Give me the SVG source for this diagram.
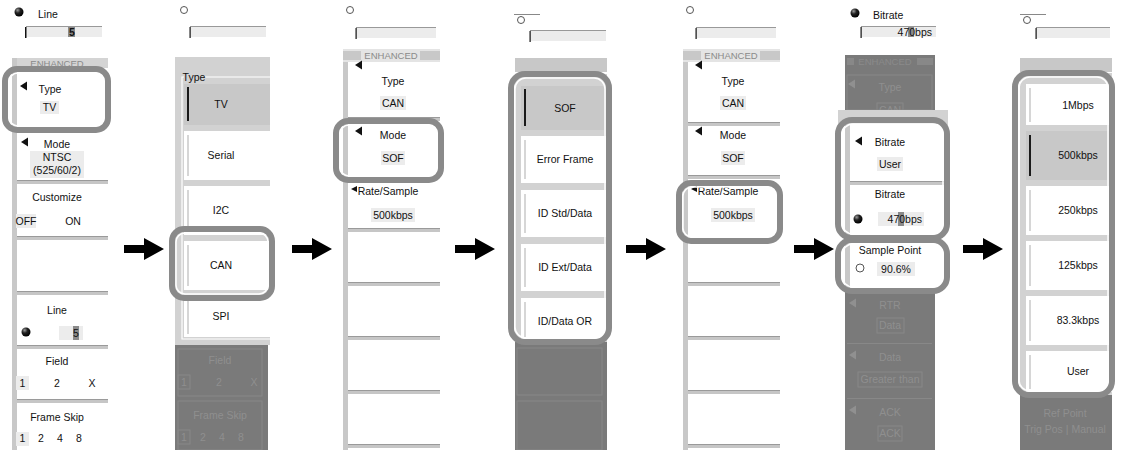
<svg xmlns="http://www.w3.org/2000/svg" xmlns:xlink="http://www.w3.org/1999/xlink" width="1127" height="450" viewBox="0 0 1127 450">
<style>
text{font-family:"Liberation Sans",Arial,sans-serif;font-size:10.5px;fill:#111;text-anchor:middle}
.l{text-anchor:start}
.r{text-anchor:end}
.f{fill:#8f8f8f}
.hd{font-size:9.5px;fill:#8a8a8a}
.strip{fill:#c8c8c8}
.sep{fill:#c6c6c6}
.sepl{stroke:#9a9a9a;stroke-width:1}
.vb{fill:#ececec}
.box{fill:#ececec}
.bl{fill:#111}
.hl{fill:none;stroke:#8a8a8a;stroke-width:6}
.hli{fill:none;stroke:#fff;stroke-width:1.5}
.sel{fill:#c8c8c8}
.bar{fill:#1a1a1a}
.lbar{fill:#d6d6d6}
.dark{fill:#7a7a7a}
.fb{fill:none;stroke:#888;stroke-width:1}
.ko{fill:#fff;stroke:#555;stroke-width:1}
.cur{fill:#8a8a8a}
.arr{fill:#000}
</style>
<defs>
<radialGradient id="kb" cx="0.35" cy="0.3" r="0.7">
<stop offset="0" stop-color="#9a9a9a"/>
<stop offset="0.45" stop-color="#222"/>
<stop offset="1" stop-color="#000"/>
</radialGradient>
<path id="arrow" d="M0,-4 H20 V-11 L40,0 L20,11 V4 H0 Z"/>
<polygon id="tri" points="0,0 7,-4.5 7,4.5"/>
</defs>
<rect width="1127" height="450" fill="#fff"/>

<!-- Panel 1 -->
<g id="panel1">
<circle cx="19" cy="12" r="4.5" fill="url(#kb)"/>
<text x="38" y="18" class="l">Line</text>
<rect x="26" y="27" width="76" height="10" class="box"/>
<line x1="26" y1="26.5" x2="102" y2="26.5" stroke="#999"/>
<rect x="25" y="27" width="1.5" height="11" class="bl"/>
<rect x="68" y="27" width="7" height="10" class="cur"/>
<text x="72" y="35.5" font-weight="bold">5</text>
<rect x="12" y="58" width="96" height="10" fill="#d4d4d4"/>
<text x="57" y="66.5" class="hd">ENHANCED</text>
<rect x="12" y="58" width="5" height="392" class="strip"/>
<use xlink:href="#tri" x="20" y="86" class="bl"/>
<text x="50" y="93">Type</text>
<rect x="40" y="101" width="19" height="13" class="vb"/>
<text x="49.5" y="111">TV</text>
<rect x="5" y="69" width="103" height="61" rx="12" class="hl"/>
<rect x="9" y="73" width="95" height="53" rx="9" class="hli"/>
<use xlink:href="#tri" x="21" y="142" class="bl"/>
<text x="57" y="148">Mode</text>
<rect x="30" y="151" width="54" height="27" class="vb"/>
<text x="57" y="161">NTSC</text>
<text x="57" y="174">(525/60/2)</text>
<line x1="17" y1="180.5" x2="108" y2="180.5" class="sepl"/>
<rect x="17" y="181" width="91" height="3" class="sep"/>
<text x="57" y="201">Customize</text>
<rect x="16" y="214" width="20" height="14" class="vb"/>
<text x="26" y="225">OFF</text>
<text x="73" y="225">ON</text>
<line x1="17" y1="236.5" x2="108" y2="236.5" class="sepl"/>
<rect x="17" y="237" width="91" height="3" class="sep"/>
<line x1="17" y1="291.5" x2="108" y2="291.5" class="sepl"/>
<rect x="17" y="292" width="91" height="3" class="sep"/>
<text x="57" y="314">Line</text>
<circle cx="26" cy="332" r="4.5" fill="url(#kb)"/>
<rect x="59" y="326" width="24" height="14" class="vb"/>
<rect x="73" y="326" width="6" height="14" class="cur"/>
<text x="76" y="337">5</text>
<line x1="17" y1="345.5" x2="108" y2="345.5" class="sepl"/>
<rect x="17" y="346" width="91" height="3" class="sep"/>
<text x="57" y="365">Field</text>
<rect x="16" y="376" width="13" height="14" class="vb"/>
<text x="22.5" y="387">1</text>
<text x="57" y="387">2</text>
<text x="92" y="387">X</text>
<line x1="17" y1="399.5" x2="108" y2="399.5" class="sepl"/>
<rect x="17" y="400" width="91" height="3" class="sep"/>
<text x="57" y="421">Frame Skip</text>
<rect x="16" y="432" width="13" height="14" class="vb"/>
<text x="22.5" y="442">1</text>
<text x="41" y="442">2</text>
<text x="60" y="442">4</text>
<text x="79" y="442">8</text>
</g>

<!-- Panel 2 -->
<g id="panel2">
<circle cx="184" cy="10" r="3.5" class="ko"/>
<rect x="190" y="27" width="76" height="10" class="box"/>
<line x1="190" y1="26.5" x2="266" y2="26.5" stroke="#999"/>
<rect x="189.5" y="27" width="1.2" height="11" class="bl"/>
<rect x="175" y="57" width="95" height="288" fill="#d2d2d2"/>
<polyline points="184,77 182,77 182,339 270,339" fill="none" stroke="#fff" stroke-width="1.2"/>
<line x1="204" y1="77" x2="270" y2="77" stroke="#fff" stroke-width="1.2"/>
<text x="194" y="81" font-size="9px" fill="#fff">Type</text>
<rect x="184" y="84" width="86" height="41" class="sel"/>
<rect x="187" y="87" width="2" height="34" class="bar"/>
<text x="221" y="108">TV</text>
<rect x="184" y="131" width="86" height="49" fill="#fff"/>
<rect x="187" y="135" width="2" height="41" class="lbar"/>
<text x="221" y="159">Serial</text>
<rect x="184" y="186" width="86" height="49" fill="#fff"/>
<rect x="187" y="190" width="2" height="41" class="lbar"/>
<text x="221" y="214">I2C</text>
<rect x="184" y="241" width="86" height="49" fill="#fff"/>
<rect x="187" y="245" width="2" height="41" class="lbar"/>
<text x="221" y="269">CAN</text>
<rect x="184" y="296" width="86" height="41" fill="#fff"/>
<rect x="187" y="299" width="2" height="35" class="lbar"/>
<text x="221" y="320">SPI</text>
<rect x="175" y="345" width="93" height="105" class="dark"/>
<rect x="178" y="349" width="84" height="47" class="fb"/>
<text x="220" y="364" class="f">Field</text>
<rect x="178" y="375" width="12" height="14" class="fb"/>
<text x="184" y="386" class="f">1</text>
<text x="219" y="386" class="f">2</text>
<text x="254" y="386" class="f">X</text>
<rect x="178" y="401" width="84" height="49" class="fb"/>
<text x="220" y="419" class="f">Frame Skip</text>
<rect x="178" y="430" width="12" height="14" class="fb"/>
<text x="184" y="441" class="f">1</text>
<text x="203" y="441" class="f">2</text>
<text x="222" y="441" class="f">4</text>
<text x="241" y="441" class="f">8</text>
<rect x="172" y="229" width="100" height="69" rx="12" class="hl"/>
<rect x="176" y="233" width="92" height="61" rx="9" class="hli"/>
</g>

<!-- Panel 3 -->
<g id="panel3">
<circle cx="350" cy="10" r="3.5" class="ko"/>
<rect x="356" y="28" width="80" height="10" class="box"/>
<line x1="356" y1="27.5" x2="436" y2="27.5" stroke="#999"/>
<rect x="355.5" y="28" width="1.2" height="11" class="bl"/>
<rect x="343" y="49" width="97" height="13" fill="#e4e4e4"/>
<rect x="343" y="51" width="18" height="9" class="strip"/>
<rect x="420" y="51" width="20" height="9" class="strip"/>
<text x="391" y="59" class="hd">ENHANCED</text>
<rect x="343" y="62" width="5" height="388" class="strip"/>
<use xlink:href="#tri" x="355" y="65" class="bl"/>
<text x="393" y="85">Type</text>
<rect x="380" y="96" width="26" height="14" class="vb"/>
<text x="393" y="107">CAN</text>
<line x1="348" y1="117.5" x2="440" y2="117.5" class="sepl"/>
<rect x="348" y="118" width="92" height="3" class="sep"/>
<use xlink:href="#tri" x="355" y="131" class="bl"/>
<text x="393" y="139">Mode</text>
<rect x="381" y="151" width="24" height="14" class="vb"/>
<text x="393" y="162">SOF</text>
<rect x="336" y="121" width="105" height="59" rx="12" class="hl"/>
<rect x="340" y="125" width="97" height="51" rx="9" class="hli"/>
<polygon points="351,189 357,186 357,192" class="bl"/>
<text x="388" y="195">Rate/Sample</text>
<rect x="371" y="208" width="44" height="14" class="vb"/>
<text x="393" y="219">500kbps</text>
<line x1="348" y1="228.5" x2="440" y2="228.5" class="sepl"/>
<rect x="348" y="229" width="92" height="3" class="sep"/>
<line x1="348" y1="282.5" x2="440" y2="282.5" class="sepl"/>
<rect x="348" y="283" width="92" height="3" class="sep"/>
<line x1="348" y1="336.5" x2="440" y2="336.5" class="sepl"/>
<rect x="348" y="337" width="92" height="3" class="sep"/>
<line x1="348" y1="390.5" x2="440" y2="390.5" class="sepl"/>
<rect x="348" y="391" width="92" height="3" class="sep"/>
<line x1="348" y1="444.5" x2="440" y2="444.5" class="sepl"/>
<rect x="348" y="445" width="92" height="3" class="sep"/>
</g>

<!-- Panel 4 -->
<g id="panel4">
<line x1="514" y1="14.5" x2="540" y2="14.5" stroke="#888"/>
<circle cx="521" cy="20" r="3.5" class="ko"/>
<rect x="530" y="31" width="76" height="10" class="box"/>
<line x1="530" y1="30.5" x2="606" y2="30.5" stroke="#999"/>
<rect x="529.5" y="31" width="1.2" height="11" class="bl"/>
<rect x="515" y="58" width="92" height="14" class="strip"/>
<rect x="515" y="74" width="92" height="268" fill="#d2d2d2"/>
<rect x="521" y="86" width="86" height="44" class="sel"/>
<rect x="524" y="89" width="2" height="37" class="bar"/>
<text x="565" y="112">SOF</text>
<rect x="521" y="136" width="86" height="47" fill="#fff"/>
<rect x="524" y="140" width="2" height="39" class="lbar"/>
<text x="565" y="163">Error Frame</text>
<rect x="521" y="190" width="86" height="47" fill="#fff"/>
<rect x="524" y="194" width="2" height="39" class="lbar"/>
<text x="565" y="217">ID Std/Data</text>
<rect x="521" y="244" width="86" height="47" fill="#fff"/>
<rect x="524" y="248" width="2" height="39" class="lbar"/>
<text x="565" y="271">ID Ext/Data</text>
<rect x="521" y="298" width="86" height="41" fill="#fff"/>
<rect x="524" y="302" width="2" height="35" class="lbar"/>
<text x="565" y="325">ID/Data OR</text>
<rect x="515" y="342" width="92" height="108" class="dark"/>
<rect x="517" y="348" width="85" height="47" class="fb"/>
<rect x="517" y="401" width="85" height="49" class="fb"/>
<rect x="511" y="74" width="98" height="268" rx="14" class="hl"/>
<rect x="515" y="78" width="90" height="260" rx="11" class="hli"/>
</g>

<!-- Panel 5 -->
<g id="panel5">
<circle cx="690" cy="10" r="3.5" class="ko"/>
<rect x="696" y="28" width="80" height="10" class="box"/>
<line x1="696" y1="27.5" x2="776" y2="27.5" stroke="#999"/>
<rect x="695.5" y="28" width="1.2" height="11" class="bl"/>
<rect x="683" y="49" width="97" height="13" fill="#e4e4e4"/>
<rect x="683" y="51" width="18" height="9" class="strip"/>
<rect x="760" y="51" width="20" height="9" class="strip"/>
<text x="731" y="59" class="hd">ENHANCED</text>
<rect x="683" y="62" width="5" height="388" class="strip"/>
<use xlink:href="#tri" x="695" y="65" class="bl"/>
<text x="733" y="85">Type</text>
<rect x="720" y="96" width="26" height="14" class="vb"/>
<text x="733" y="107">CAN</text>
<line x1="688" y1="122.5" x2="780" y2="122.5" class="sepl"/>
<rect x="688" y="123" width="92" height="3" class="sep"/>
<use xlink:href="#tri" x="695" y="131" class="bl"/>
<text x="733" y="139">Mode</text>
<rect x="721" y="151" width="24" height="14" class="vb"/>
<text x="733" y="162">SOF</text>
<line x1="688" y1="175.5" x2="780" y2="175.5" class="sepl"/>
<rect x="688" y="176" width="92" height="3" class="sep"/>
<polygon points="691,189 697,186 697,192" class="bl"/>
<text x="728" y="195">Rate/Sample</text>
<rect x="711" y="208" width="44" height="14" class="vb"/>
<text x="733" y="219">500kbps</text>
<rect x="679" y="183" width="101" height="58" rx="12" class="hl"/>
<rect x="683" y="187" width="93" height="50" rx="9" class="hli"/>
<line x1="688" y1="282.5" x2="780" y2="282.5" class="sepl"/>
<rect x="688" y="283" width="92" height="3" class="sep"/>
<line x1="688" y1="336.5" x2="780" y2="336.5" class="sepl"/>
<rect x="688" y="337" width="92" height="3" class="sep"/>
<line x1="688" y1="390.5" x2="780" y2="390.5" class="sepl"/>
<rect x="688" y="391" width="92" height="3" class="sep"/>
<line x1="688" y1="444.5" x2="780" y2="444.5" class="sepl"/>
<rect x="688" y="445" width="92" height="3" class="sep"/>
</g>

<!-- Panel 6 -->
<g id="panel6">
<circle cx="855" cy="13" r="4.5" fill="url(#kb)"/>
<text x="873" y="19" class="l">Bitrate</text>
<rect x="861" y="27" width="75" height="10" class="box"/>
<line x1="861" y1="26.5" x2="936" y2="26.5" stroke="#999"/>
<rect x="860.5" y="27" width="1.2" height="11" class="bl"/>
<rect x="908" y="27" width="6" height="10" class="cur"/>
<text x="932" y="36" class="r">470bps</text>
<rect x="845" y="55" width="90" height="55" class="dark"/>
<rect x="847" y="58" width="7" height="7" fill="#888"/>
<rect x="917" y="58" width="16" height="7" fill="#888"/>
<text x="885" y="65" class="f hd">ENHANCED</text>
<rect x="847" y="75" width="85" height="35" class="fb"/>
<use xlink:href="#tri" x="848" y="84" fill="#909090"/>
<text x="890" y="91" class="f">Type</text>
<rect x="877" y="103" width="26" height="14" class="fb"/>
<text x="890" y="114" class="f">CAN</text>
<rect x="838" y="110" width="110" height="15" fill="#d2d2d2"/>
<rect x="843" y="124" width="100" height="112" fill="#fff"/>
<rect x="845" y="124" width="5" height="112" class="strip"/>
<use xlink:href="#tri" x="855" y="141" class="bl"/>
<text x="890" y="146">Bitrate</text>
<rect x="877" y="157" width="26" height="14" class="vb"/>
<text x="890" y="168">User</text>
<line x1="850" y1="181.5" x2="945" y2="181.5" class="sepl"/>
<rect x="850" y="182" width="95" height="3" class="sep"/>
<text x="890" y="198">Bitrate</text>
<circle cx="858" cy="219" r="4.5" fill="url(#kb)"/>
<rect x="878" y="212" width="46" height="14" class="vb"/>
<rect x="898" y="212" width="6" height="14" class="cur"/>
<text x="922" y="223" class="r">470bps</text>
<rect x="838" y="120" width="109" height="118" rx="14" class="hl"/>
<rect x="842" y="124" width="101" height="110" rx="11" class="hli"/>
<rect x="845" y="244" width="5" height="44" class="strip"/>
<text x="890" y="254">Sample Point</text>
<circle cx="860" cy="268" r="4" class="ko"/>
<rect x="877" y="262" width="38" height="14" class="vb"/>
<text x="896" y="273" fill="#555">90.6%</text>
<rect x="845" y="291" width="90" height="159" class="dark"/>
<use xlink:href="#tri" x="849" y="303" fill="#909090"/>
<text x="890" y="309" class="f">RTR</text>
<rect x="877" y="318" width="27" height="15" class="fb"/>
<text x="890" y="329" class="f">Data</text>
<line x1="847" y1="343.5" x2="932" y2="343.5" stroke="#888"/>
<use xlink:href="#tri" x="849" y="355" fill="#909090"/>
<text x="890" y="361" class="f">Data</text>
<rect x="858" y="372" width="64" height="15" class="fb"/>
<text x="890" y="383" class="f">Greater than</text>
<line x1="847" y1="398.5" x2="932" y2="398.5" stroke="#888"/>
<use xlink:href="#tri" x="849" y="410" fill="#909090"/>
<text x="890" y="416" class="f">ACK</text>
<rect x="878" y="426" width="24" height="15" class="fb"/>
<text x="890" y="437" class="f">ACK</text>
<rect x="838" y="240" width="109" height="51" rx="14" class="hl"/>
<rect x="842" y="244" width="101" height="43" rx="11" class="hli"/>
</g>

<!-- Panel 7 -->
<g id="panel7">
<line x1="1020" y1="14.5" x2="1046" y2="14.5" stroke="#888"/>
<circle cx="1027" cy="20" r="3.5" class="ko"/>
<rect x="1036" y="28" width="74" height="10" class="box"/>
<line x1="1036" y1="27.5" x2="1110" y2="27.5" stroke="#999"/>
<rect x="1035.5" y="28" width="1.2" height="11" class="bl"/>
<rect x="1020" y="58" width="92" height="14" class="strip"/>
<rect x="1020" y="73" width="92" height="322" fill="#d2d2d2"/>
<rect x="1026" y="84" width="86" height="41" fill="#fff"/>
<rect x="1029" y="88" width="2" height="34" class="lbar"/>
<text x="1078" y="109">1Mbps</text>
<rect x="1026" y="131" width="86" height="49" class="sel"/>
<rect x="1029" y="135" width="2" height="41" class="bar"/>
<text x="1078" y="159">500kbps</text>
<rect x="1026" y="186" width="86" height="49" fill="#fff"/>
<rect x="1029" y="190" width="2" height="41" class="lbar"/>
<text x="1078" y="214">250kbps</text>
<rect x="1026" y="241" width="86" height="49" fill="#fff"/>
<rect x="1029" y="245" width="2" height="41" class="lbar"/>
<text x="1078" y="269">125kbps</text>
<rect x="1026" y="296" width="86" height="49" fill="#fff"/>
<rect x="1029" y="300" width="2" height="41" class="lbar"/>
<text x="1078" y="324">83.3kbps</text>
<rect x="1026" y="351" width="86" height="41" fill="#fff"/>
<rect x="1029" y="355" width="2" height="34" class="lbar"/>
<text x="1078" y="375">User</text>
<rect x="1020" y="395" width="92" height="55" class="dark"/>
<text x="1065" y="417" class="f">Ref Point</text>
<text x="1065" y="433" class="f">Trig Pos | Manual</text>
<rect x="1015" y="73" width="97" height="322" rx="14" class="hl"/>
<rect x="1019" y="77" width="89" height="314" rx="11" class="hli"/>
</g>

<!-- Connectors -->
<g id="connectors" class="arr">
<use xlink:href="#arrow" x="124" y="249"/>
<use xlink:href="#arrow" x="292" y="249"/>
<use xlink:href="#arrow" x="455" y="249"/>
<use xlink:href="#arrow" x="626" y="249"/>
<use xlink:href="#arrow" x="794" y="249"/>
<use xlink:href="#arrow" x="963" y="249"/>
</g>
</svg>
